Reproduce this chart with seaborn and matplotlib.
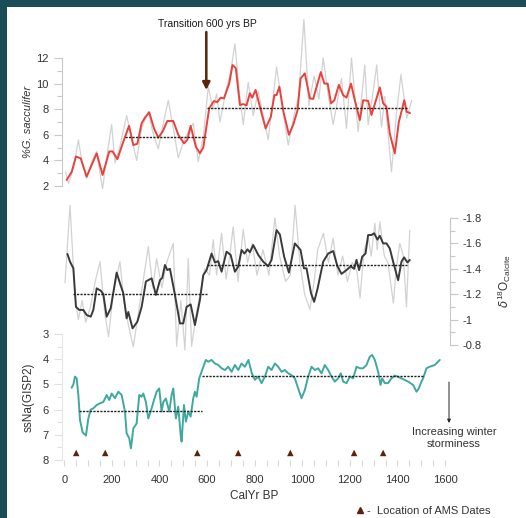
import matplotlib
matplotlib.use("Agg")
import matplotlib.pyplot as plt
from matplotlib.patches import Rectangle
import seaborn as sns

# ---- data ----
# %G. sacculifer (smoothed, red)
sac_yr = [10, 31, 49, 69, 94, 136, 161, 189, 203, 223, 248, 272, 290, 307, 325, 339, 357, 377, 395, 413,
          433, 458, 479, 503, 517, 531, 553, 570, 584, 609, 629, 643, 657, 671, 693, 707, 721, 738, 752, 766,
          780, 790, 804, 822, 846, 868, 883, 892, 904, 920, 944, 962, 980, 993, 1011, 1032, 1046, 1078, 1093, 1107,
          1121, 1135, 1154, 1172, 1186, 1205, 1221, 1242, 1256, 1277, 1291, 1305, 1326, 1340, 1354, 1368, 1389, 1406, 1429, 1439,
          1453]
sac_val = [2.47, 3.1, 4.3, 4.16, 2.73, 4.55, 2.86, 4.7, 4.7, 4.1, 5.46, 6.7, 5.2, 5.3, 6.9, 7.34, 7.76, 6.5, 5.77, 6.25,
           7.08, 7.08, 6.0, 5.33, 5.6, 6.7, 5.07, 4.55, 5.0, 8.07, 8.64, 8.55, 8.9, 8.85, 10.0, 11.45, 11.2, 8.33, 8.4, 8.3,
           9.24, 8.9, 9.5, 8.2, 6.5, 7.4, 9.1, 9.1, 9.76, 7.9, 6.0, 6.77, 7.9, 10.4, 10.8, 8.85, 8.8, 10.9, 10.0, 10.0,
           8.46, 8.7, 9.9, 9.1, 8.9, 10.0, 8.7, 7.15, 8.7, 8.65, 7.55, 8.4, 9.7, 8.46, 8.2, 6.1, 4.55, 7.0, 8.7, 7.8,
           7.7]

# %G. sacculifer (raw, grey)
sac_raw_yr = [5, 18, 40, 59, 75, 94, 115, 136, 150, 161, 180, 199, 213, 235, 262, 280, 304, 325, 353, 372,
              395, 415, 437, 458, 479, 500, 520, 542, 563, 585, 605, 625, 640, 654, 680, 700, 717, 735, 752, 773,
              794, 815, 835, 857, 875, 892, 915, 941, 965, 985, 1007, 1028, 1050, 1070, 1088, 1110, 1130, 1165, 1186, 1207,
              1235, 1263, 1277, 1295, 1313, 1333, 1347, 1375, 1395, 1415, 1439, 1460]
sac_raw_val = [3.1, 2.2, 3.5, 5.6, 3.8, 2.6, 3.9, 4.7, 3.0, 1.8, 4.5, 6.8, 3.8, 5.2, 7.5, 6.0, 4.0, 6.5, 7.8, 6.2,
               4.9, 6.8, 8.7, 6.5, 4.2, 5.4, 6.2, 6.9, 3.9, 6.0, 9.75, 8.0, 9.2, 7.0, 9.5, 11.0, 13.1, 9.5, 6.8, 10.1,
               7.5, 9.4, 7.6, 5.6, 8.5, 11.3, 8.4, 5.2, 7.5, 9.0, 15.0, 8.3, 10.6, 8.8, 12.0, 9.0, 6.8, 10.4, 6.5, 12.0,
               6.25, 11.45, 6.8, 9.0, 11.45, 6.6, 9.0, 3.1, 7.5, 10.7, 7.3, 8.7]

# d18O calcite (smoothed, black)
d18_yr = [13, 24, 38, 49, 63, 80, 94, 111, 122, 136, 153, 164, 178, 195, 220, 234, 248, 262, 269, 287,
          307, 325, 343, 367, 385, 402, 412, 423, 433, 444, 465, 486, 500, 514, 531, 549, 570, 584, 598, 619,
          633, 647, 661, 682, 699, 717, 731, 745, 757, 770, 780, 794, 815, 836, 857, 871, 892, 906, 924, 944,
          969, 993, 1007, 1018, 1037, 1050, 1064, 1088, 1109, 1130, 1148, 1165, 1186, 1204, 1218, 1228, 1239, 1252, 1266, 1277,
          1291, 1302, 1316, 1326, 1340, 1354, 1368, 1382, 1403, 1417, 1428, 1442, 1452]
d18_val = [-1.517, -1.456, -1.404, -1.10, -1.076, -1.076, -1.036, -1.023, -1.076, -1.246, -1.228, -1.20, -1.023, -1.089, -1.37, -1.286, -1.207, -1.01, -1.06, -0.931,
           -0.983, -1.10, -1.30, -1.325, -1.194, -1.31, -1.33, -1.43, -1.39, -1.40, -1.194, -0.97, -0.97, -1.10, -1.12, -0.957, -1.155, -1.35, -1.39, -1.52,
           -1.45, -1.46, -1.377, -1.535, -1.51, -1.377, -1.417, -1.548, -1.52, -1.553, -1.53, -1.587, -1.51, -1.456, -1.42, -1.47, -1.705, -1.67, -1.495, -1.37,
           -1.60, -1.548, -1.404, -1.404, -1.207, -1.14, -1.24, -1.456, -1.52, -1.54, -1.42, -1.36, -1.39, -1.42, -1.40, -1.47, -1.39, -1.495, -1.52, -1.666,
           -1.666, -1.68, -1.63, -1.66, -1.60, -1.60, -1.56, -1.456, -1.31, -1.456, -1.49, -1.45, -1.47]

# d18O calcite (raw, grey)
d18_raw_yr = [3, 24, 45, 59, 75, 90, 110, 130, 150, 170, 186, 205, 234, 250, 270, 290, 315, 335, 353, 372,
              388, 410, 430, 458, 472, 490, 507, 521, 535, 555, 575, 590, 610, 626, 640, 661, 680, 695, 710, 730,
              752, 770, 790, 810, 835, 860, 885, 905, 930, 950, 970, 990, 1010, 1032, 1050, 1065, 1089, 1110, 1130, 1150,
              1170, 1190, 1210, 1230, 1243, 1260, 1278, 1290, 1305, 1315, 1326, 1345, 1360, 1383, 1395, 1410, 1425, 1438, 1452]
d18_raw_val = [-1.29, -1.90, -1.18, -1.0, -1.15, -0.98, -1.10, -1.30, -1.456, -1.05, -0.865, -1.20, -1.456, -1.15, -0.95, -0.787, -1.10, -1.35, -1.574, -1.25,
               -1.48, -1.25, -1.45, -1.60, -0.79, -1.15, -0.76, -1.48, -0.79, -1.05, -1.25, -1.40, -1.35, -1.63, -1.35, -1.68, -1.32, -1.50, -1.73, -1.30,
               -1.71, -1.45, -1.60, -1.35, -1.55, -1.35, -1.80, -1.50, -1.30, -1.35, -1.90, -1.45, -1.20, -1.08, -1.30, -1.55, -1.68, -1.45, -1.64, -1.35,
               -1.50, -1.30, -1.45, -1.38, -1.17, -1.55, -1.64, -1.50, -1.76, -1.55, -1.77, -1.50, -1.45, -1.13, -1.40, -1.60, -1.50, -1.10, -1.705]

# ssNa (GISP2)
na_yr = [31, 38, 45, 52, 59, 66, 77, 91, 101, 111, 122, 136, 150, 164, 178, 189, 199, 213, 227, 241,
         255, 262, 273, 280, 290, 304, 315, 325, 332, 343, 353, 363, 377, 388, 399, 409, 416, 427, 441, 451,
         458, 469, 479, 489, 493, 503, 511, 521, 531, 542, 549, 556, 567, 577, 587, 595, 605, 619, 633, 647,
         661, 675, 689, 703, 717, 731, 745, 759, 774, 788, 801, 815, 829, 843, 857, 871, 885, 899, 913, 927,
         941, 955, 969, 983, 997, 1011, 1025, 1039, 1053, 1067, 1081, 1095, 1109, 1123, 1137, 1151, 1162, 1172, 1186, 1200,
         1214, 1228, 1242, 1256, 1270, 1284, 1294, 1305, 1319, 1329, 1336, 1347, 1361, 1375, 1389, 1417, 1445, 1466, 1480, 1490,
         1501, 1508, 1522, 1536, 1557, 1578]
na_val = [5.13, 5.0, 4.69, 4.76, 5.42, 6.41, 6.90, 7.03, 6.35, 6.0, 5.95, 5.82, 5.75, 5.70, 5.42, 5.62, 5.36, 5.55, 5.29, 5.42,
          6.08, 6.94, 7.14, 7.54, 6.75, 6.55, 5.42, 5.49, 5.36, 5.70, 6.35, 6.08, 5.62, 5.29, 5.16, 6.08, 5.70, 5.56, 6.08, 5.42,
          5.16, 6.35, 5.88, 7.0, 7.27, 5.82, 6.48, 6.08, 6.28, 5.55, 5.29, 5.49, 4.76, 4.50, 4.23, 4.03, 4.1, 4.03, 4.17, 4.23,
          4.36, 4.43, 4.30, 4.5, 4.23, 4.43, 4.17, 4.30, 4.03, 4.56, 4.82, 4.69, 4.95, 4.69, 4.30, 4.43, 4.17, 4.30, 4.50, 4.43,
          4.56, 4.63, 4.76, 5.16, 5.55, 5.22, 4.69, 4.30, 4.43, 4.36, 4.56, 4.23, 4.43, 4.69, 4.89, 4.76, 4.56, 4.89, 4.95, 4.69,
          4.76, 4.30, 4.36, 4.36, 4.23, 3.90, 3.83, 4.03, 4.50, 5.02, 4.76, 4.95, 4.95, 4.76, 4.65, 4.76, 4.89, 5.02, 5.29, 5.16,
          4.89, 4.76, 4.36, 4.30, 4.23, 4.03]

# period means (dotted lines): start year, end year, value
sac_mean_start = [255, 600]
sac_mean_end = [594, 1445]
sac_mean_val = [5.85, 8.12]
d18_mean_start = [38, 600]
d18_mean_end = [600, 1440]
d18_mean_val = [-1.20, -1.43]
na_mean_start = [63, 577]
na_mean_end = [577, 1508]
na_mean_val = [6.04, 4.67]

# AMS radiocarbon dates
ams_yr = [50, 172, 559, 731, 950, 1218, 1340]
ams_level = 7.72

# ---- styling ----
sns.set_style("white")
plt.rcParams['font.family'] = ['Liberation Sans', 'DejaVu Sans']
plt.rcParams['mathtext.fontset'] = 'custom'
plt.rcParams['mathtext.rm'] = 'Liberation Sans'

W, H = 526, 518
X0, X1 = 64.3, 445.0
RED = '#e8423c'
TEAL = '#3fa99f'
GREY = '#d2d2d2'
SPINE = '#c8c8c8'
TXT = '#333333'
BROWN = '#5a230c'
TICK_FS = 8

fig = plt.figure(figsize=(W / 100, H / 100), dpi=100, facecolor='#1b4d58')
fig.add_artist(Rectangle((7 / W, 0), 1 - 7 / W, 1 - 7 / H, transform=fig.transFigure,
                         facecolor='white', edgecolor='none', zorder=-10))


def box(y_top, y_bot):
    return [X0 / W, 1 - y_bot / H, (X1 - X0) / W, (y_bot - y_top) / H]


def base(ax, side='left'):
    ax.set_xlim(0, 1600)
    ax.patch.set_visible(False)
    for s in ax.spines.values():
        s.set_visible(False)
    ax.set_xticks([])
    on_left = side == 'left'
    ax.tick_params(axis='y', which='both', left=on_left, right=not on_left,
                   labelleft=on_left, labelright=not on_left, direction='out')
    ax.tick_params(axis='y', which='major', colors=SPINE, labelcolor=TXT, labelsize=TICK_FS,
                   length=6, width=0.8)
    ax.tick_params(axis='y', which='minor', colors=SPINE, length=3.5, width=0.8)


def means(ax, start, end, val):
    for a, b, v in zip(start, end, val):
        sns.lineplot(x=[a, b], y=[v, v], ax=ax, color='#222222', lw=1.0,
                     linestyle=(0, (1.6, 0.9)), clip_on=False)


# ===== top: %G. sacculifer =====
ax1 = fig.add_axes(box(58, 186))
base(ax1)
sns.lineplot(x=sac_raw_yr, y=sac_raw_val, ax=ax1, color=GREY, lw=0.9, clip_on=False)
sns.lineplot(x=sac_yr, y=sac_val, ax=ax1, color=RED, lw=1.4, clip_on=False)
means(ax1, sac_mean_start, sac_mean_end, sac_mean_val)
ax1.set_ylim(2, 12)
ax1.spines['left'].set_visible(True)
ax1.spines['left'].set_color(SPINE)
ax1.spines['left'].set_position(('data', -10))
ax1.spines['left'].set_bounds(2, 12)
ax1.set_yticks([2, 4, 6, 8, 10, 12])
ax1.set_yticks([3, 5, 7, 9, 11], minor=True)
ax1.set_xlabel('')
ax1.set_ylabel('')

# ===== middle: d18O calcite =====
ax2 = fig.add_axes(box(218, 345))
base(ax2, side='right')
sns.lineplot(x=d18_raw_yr, y=d18_raw_val, ax=ax2, color=GREY, lw=0.9, clip_on=False)
sns.lineplot(x=d18_yr, y=d18_val, ax=ax2, color='#3a3a3a', lw=1.4, clip_on=False)
means(ax2, d18_mean_start, d18_mean_end, d18_mean_val)
ax2.set_ylim(-0.8, -1.8)
ax2.spines['right'].set_visible(True)
ax2.spines['right'].set_color(SPINE)
ax2.spines['right'].set_position(('data', 1620))
ax2.spines['right'].set_bounds(-1.8, -0.8)
ax2.set_yticks([-1.8, -1.6, -1.4, -1.2, -1.0, -0.8])
ax2.set_yticklabels(['-1.8', '-1.6', '-1.4', '-1.2', '-1', '-0.8'])
ax2.set_yticks([-1.7, -1.5, -1.3, -1.1, -0.9], minor=True)
ax2.set_xlabel('')
ax2.set_ylabel('')

# ===== bottom: ssNa (GISP2) =====
ax3 = fig.add_axes(box(334, 460))
base(ax3)
sns.lineplot(x=na_yr, y=na_val, ax=ax3, color=TEAL, lw=1.4, clip_on=False)
means(ax3, na_mean_start, na_mean_end, na_mean_val)
sns.scatterplot(x=ams_yr, y=[ams_level] * len(ams_yr), ax=ax3, marker='^', s=22,
                color=BROWN, edgecolor='none', clip_on=False)
ax3.set_ylim(8, 3)
ax3.spines['left'].set_visible(True)
ax3.spines['left'].set_color('#e6e6e6')
ax3.spines['left'].set_position(('data', -10))
ax3.spines['left'].set_bounds(3, 8)
ax3.set_yticks([3, 4, 5, 6, 7, 8])
ax3.set_yticks([3.5, 4.5, 5.5, 6.5, 7.5], minor=True)
ax3.tick_params(axis='y', which='both', colors='#e0e0e0', labelcolor=TXT)
ax3.set_xticks(range(0, 1601, 200))
ax3.set_xticks(range(50, 1600, 50), minor=True)
ax3.tick_params(axis='x', which='both', bottom=True, direction='out', colors='#d8d8d8',
                labelcolor=TXT, labelsize=TICK_FS, length=4.5, width=0.8, pad=6)
ax3.set_xlabel('')
ax3.set_ylabel('')

# ---- texts and arrows ----
fig.text(28 / W, 1 - 122 / H, '%G. sacculifer', rotation=90, ha='center', va='center',
         fontsize=8, style='italic', color=TXT)
fig.text(29 / W, 1 - 397 / H, 'ssNa(GISP2)', rotation=90, ha='center', va='center',
         fontsize=8.5, color=TXT)
fig.text(504 / W, 1 - 281 / H, r'$\delta^{18}$O$_{\rm Calcite}$', rotation=90,
         ha='center', va='center', fontsize=8.5, color=TXT)
fig.text(254 / W, 1 - 496 / H, 'CalYr BP', ha='center', va='center', fontsize=8.5, color=TXT)

fig.text(207.5 / W, 1 - 24 / H, 'Transition 600 yrs BP', ha='center', va='center',
         fontsize=7.5, color='#1a1a1a')
ax1.annotate('', xy=(206.3 / W, 1 - 90 / H), xytext=(206.3 / W, 1 - 32 / H),
             xycoords='figure fraction', textcoords='figure fraction',
             arrowprops=dict(arrowstyle='-|>', color=BROWN, lw=1.8, mutation_scale=11,
                             shrinkA=0, shrinkB=0))

ax3.annotate('', xy=(449 / W, 1 - 423 / H), xytext=(449 / W, 1 - 382 / H),
             xycoords='figure fraction', textcoords='figure fraction',
             arrowprops=dict(arrowstyle='-|>', color='#222222', lw=0.7, mutation_scale=5,
                             shrinkA=0, shrinkB=0))
fig.text(454 / W, 1 - 438 / H, 'Increasing winter\nstorminess', ha='center', va='center',
         fontsize=8, color=TXT, linespacing=1.15)

fig.lines.append(plt.Line2D([360 / W], [1 - 510 / H], transform=fig.transFigure, marker='^',
                            markersize=5, color=BROWN, linestyle='none'))
fig.text(367 / W, 1 - 510.5 / H, '-  Location of AMS Dates', ha='left', va='center',
         fontsize=8, color=TXT)

fig.savefig('out.png', dpi=100, facecolor=fig.get_facecolor())
